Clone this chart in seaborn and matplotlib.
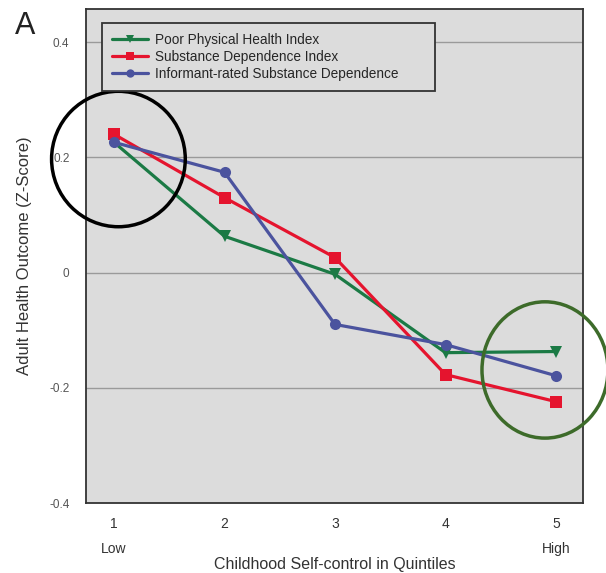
import pandas as pd
import seaborn as sns
import matplotlib.pyplot as plt
from matplotlib.patches import Ellipse

# Quintiles of childhood self-control
quintiles = [1, 2, 3, 4, 5]
quintile_labels = ['1\nLow', '2', '3', '4', '5\nHigh']

# Adult health outcomes (z-scores)
poor_physical = [0.226, 0.063, -0.003, -0.139, -0.137]
substance_dep = [0.240, 0.130, 0.026, -0.177, -0.224]
informant_dep = [0.226, 0.174, -0.090, -0.125, -0.179]

series_names = ['Poor Physical Health Index',
                'Substance Dependence Index',
                'Informant-rated Substance Dependence']

df = pd.concat([
    pd.DataFrame({'Quintile': quintiles, 'Z': poor_physical, 'Outcome': series_names[0]}),
    pd.DataFrame({'Quintile': quintiles, 'Z': substance_dep, 'Outcome': series_names[1]}),
    pd.DataFrame({'Quintile': quintiles, 'Z': informant_dep, 'Outcome': series_names[2]}),
])

sns.set_style('white')
plt.rcParams['font.family'] = ['Liberation Sans', 'DejaVu Sans']

palette = {series_names[0]: '#1b7a45', series_names[1]: '#e5142e', series_names[2]: '#4b539e'}
markers = {series_names[0]: 'v', series_names[1]: 's', series_names[2]: 'o'}

fig = plt.figure(figsize=(6.06, 5.73), dpi=100)
ax = fig.add_axes([0.142, 0.122, 0.82, 0.862])
ax.set_facecolor('#dcdcdc')

sns.lineplot(data=df, x='Quintile', y='Z', hue='Outcome', style='Outcome',
             palette=palette, markers=markers, dashes=False, linewidth=2.3,
             markersize=8, markeredgewidth=0, ax=ax)

ax.set_xlim(0.747, 5.244)
ax.set_ylim(-0.4, 0.457)
ax.set_yticks([-0.4, -0.2, 0, 0.2, 0.4])
ax.set_yticklabels(['-0.4', '-0.2', '0', '0.2', '0.4'])
ax.set_xticks(quintiles)
ax.set_xticklabels(quintile_labels, linespacing=2.0)
for y in [-0.2, 0, 0.2, 0.4]:
    ax.axhline(y, color='#9a9a9a', linewidth=1.0, zorder=0)

ax.tick_params(axis='x', direction='in', length=4, width=1.2, color='#333333',
               labelsize=10, labelcolor='#333333', pad=10)
ax.tick_params(axis='y', length=0, labelsize=8.5, labelcolor='#555555', pad=12)
for s in ax.spines.values():
    s.set_color('#333333')
    s.set_linewidth(1.3)

ax.set_xlabel('Childhood Self-control in Quintiles', fontsize=11.5, color='#333333', labelpad=1)
ax.set_ylabel('Adult Health Outcome (Z-Score)', fontsize=12, color='#333333', labelpad=12)

leg = ax.legend(loc='upper left', bbox_to_anchor=(0.032, 0.0, 0.67, 0.972),
                mode='expand', borderaxespad=0, fontsize=9.8,
                frameon=True, fancybox=False, handlelength=2.6, borderpad=0.75,
                labelspacing=0.2, handletextpad=0.55, markerscale=0.75,
                facecolor='#dcdcdc', edgecolor='#333333', framealpha=1)
leg.get_frame().set_linewidth(1.3)

# highlight circles
ax.add_patch(Ellipse((1.04, 0.197), 1.21, 0.235, fill=False, edgecolor='black',
                     linewidth=2.5, clip_on=False, zorder=5))
ax.add_patch(Ellipse((4.90, -0.169), 1.14, 0.2365, fill=False, edgecolor='#3d6b2a',
                     linewidth=2.5, clip_on=False, zorder=5))

fig.text(0.025, 0.955, 'A', fontsize=22, color='#222222', ha='left', va='center')

fig.savefig('out.png', dpi=100)
